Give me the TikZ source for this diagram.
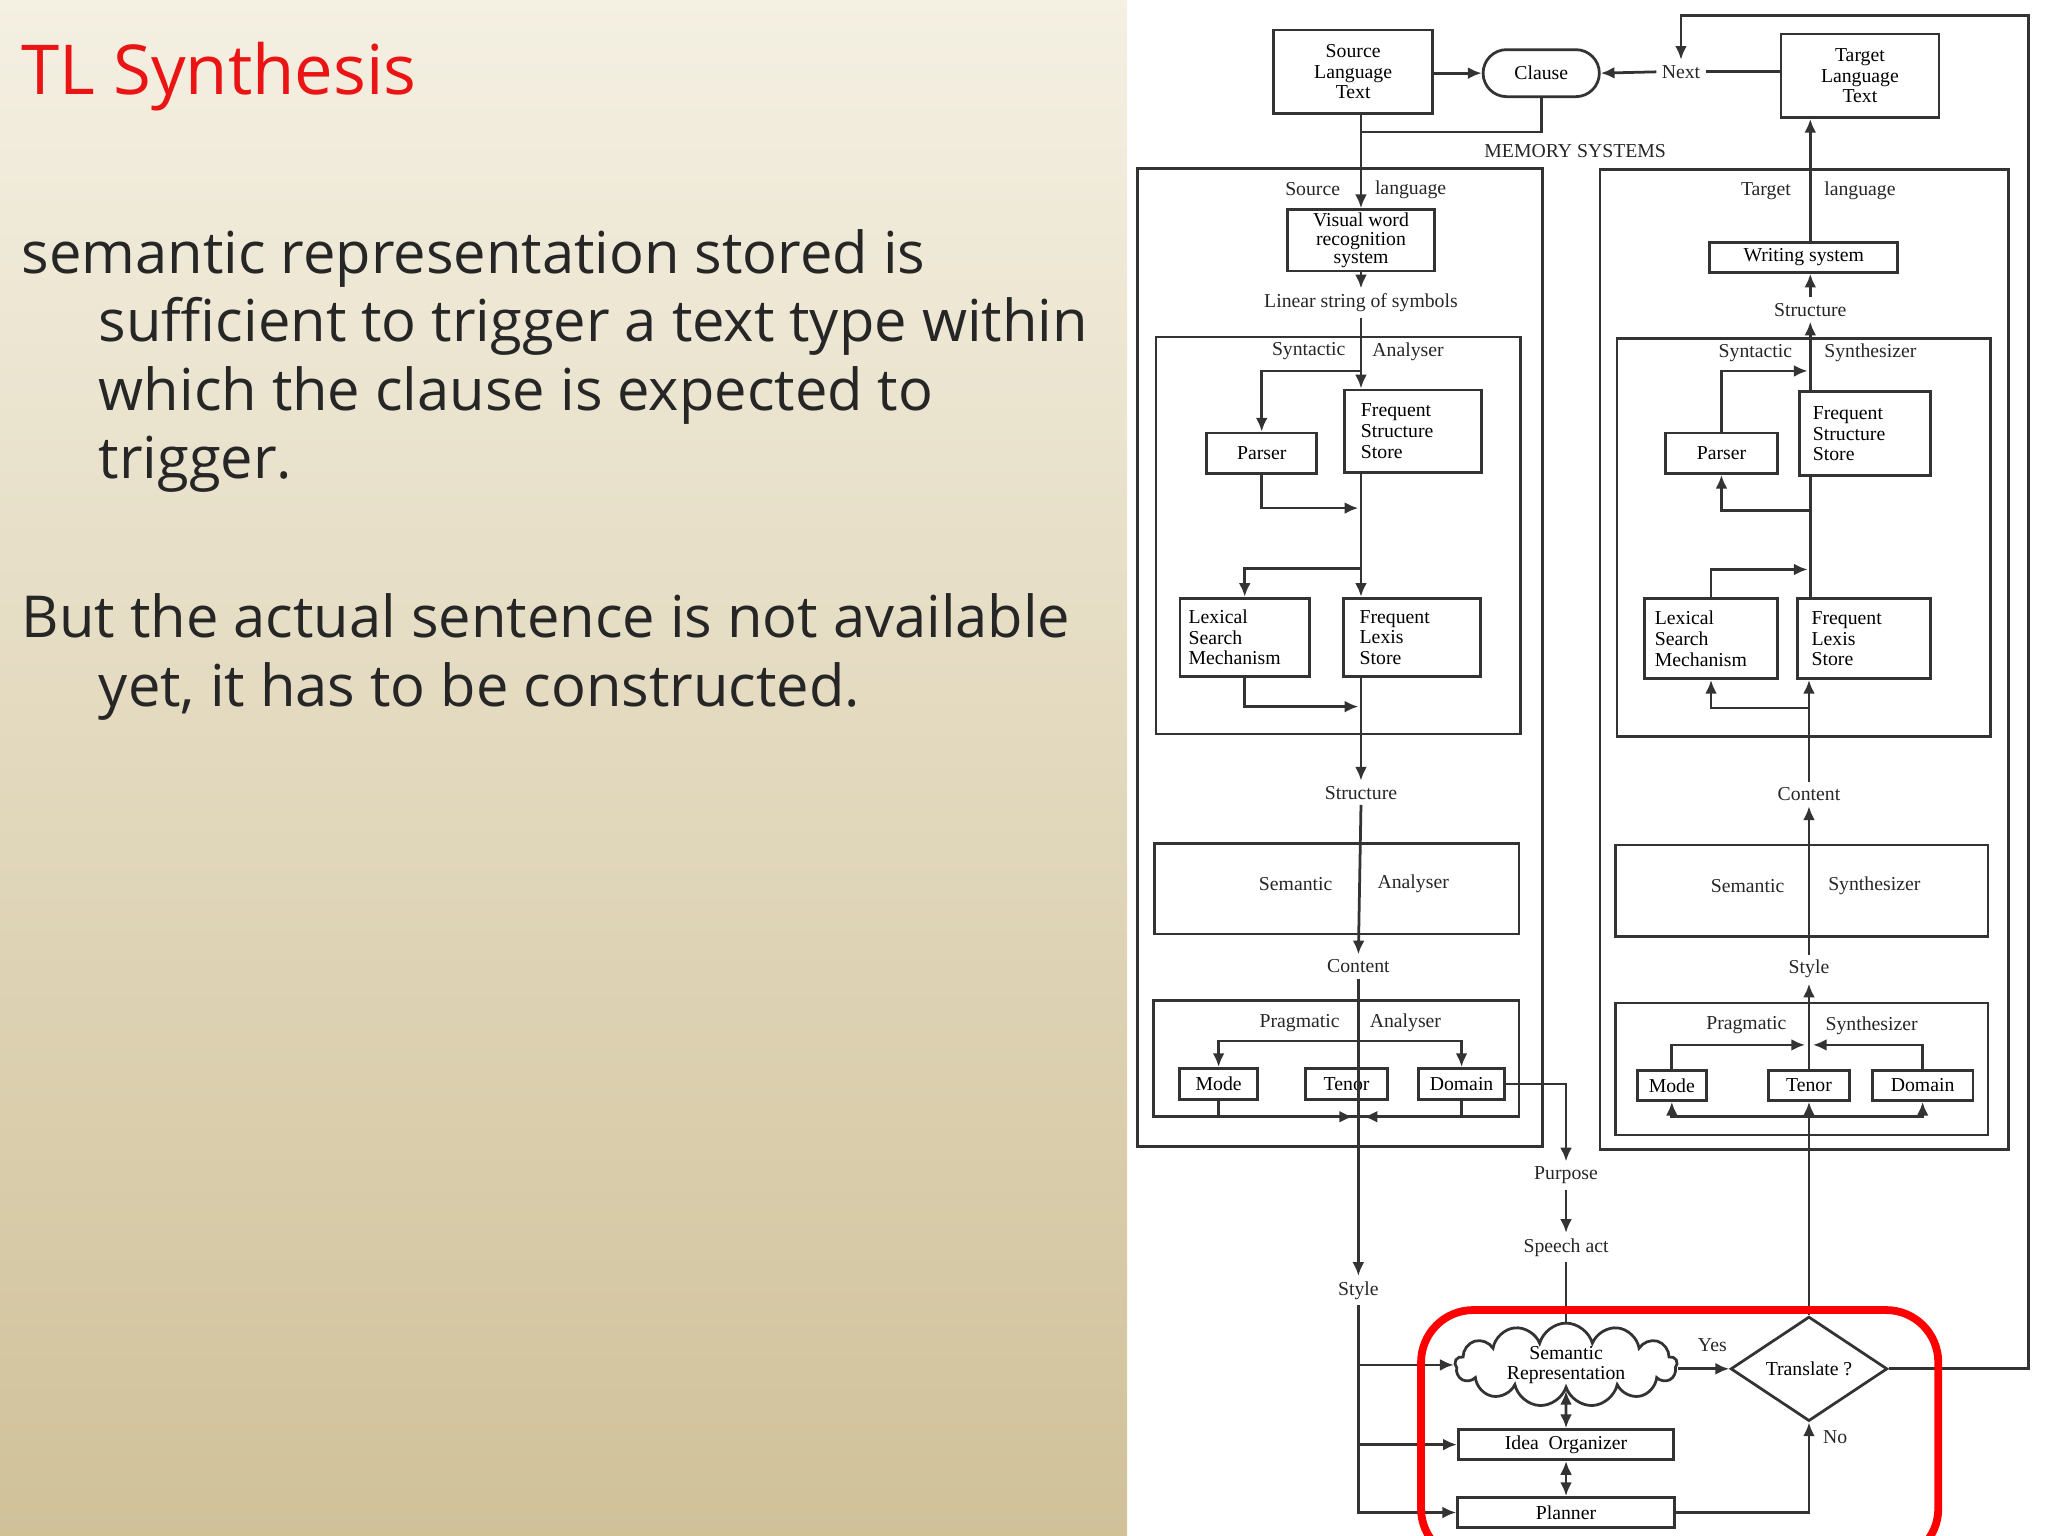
\documentclass[tikz,border=0pt]{standalone}
\usepackage{fontspec}
\setmainfont{Liberation Serif}
\newfontfamily\slidefont{Open Sans}
\usetikzlibrary{shapes.geometric,shapes.symbols,arrows.meta,calc}
\newcommand\dfont{\fontsize{4.3}{4.5}\selectfont}
\begin{document}
\begin{tikzpicture}[x=0.1mm,y=-0.1mm,
 ln/.style={line width=0.6pt, draw=black!80},
 box/.style={ln, rectangle, inner sep=0.5pt, align=center, font=\dfont},
 lbox/.style={box, align=left},
 arr/.style={ln, -{Latex[length=3pt,width=2.6pt]}},
 darr/.style={ln, {Latex[length=3pt,width=2.6pt]}-{Latex[length=3pt,width=2.6pt]}},
 lab/.style={font=\dfont, inner sep=1pt, text=black!85},
 para/.style={anchor=north west, inner sep=0, align=left, text={rgb,255:red,38;green,38;blue,38}, font=\slidefont\fontsize{12.6}{14.9}\selectfont}]
\useasboundingbox (0,0) rectangle (1568,1176);
\shade[top color={rgb,255:red,244;green,240;blue,226}, bottom color={rgb,255:red,208;green,193;blue,153}] (0,0) rectangle (863,1176);
% left text
\node[anchor=base west, inner sep=0, text={rgb,255:red,235;green,20;blue,20}, font=\slidefont\fontsize{15}{18}\selectfont] (title) at (16,72) {TL Synthesis};
\node[para] (p1) at (16,175) {semantic representation stored is\\\hspace*{5.9mm}sufficient to trigger a text type within\\\hspace*{5.9mm}which the clause is expected to\\\hspace*{5.9mm}trigger.};
\node[para] (p2) at (16,454) {But the actual sentence is not available\\\hspace*{5.9mm}yet, it has to be constructed.};
% top
\node[box,minimum width=12.2mm,minimum height=6.4mm] (slt) at (1036,55) {Source\\Language\\Text};
\node[box,rounded corners=1.8mm,minimum width=8.9mm,minimum height=3.6mm] (clause) at (1180,56) {Clause};
\node[lab] (next) at (1287,55) {Next};
\node[box,minimum width=12.1mm,minimum height=6.4mm] (tlt) at (1424,58) {Target\\Language\\Text};
\draw[arr] (slt.east|-clause.west) -- (clause.west);
\draw[arr] (next.west) -- (clause.east);
\draw[ln] (tlt.west|-next) -- (next.east);
\draw[ln] (clause.south) -- (1180,101) -- (1043,101);
\node[lab] (mem) at (1206,116) {MEMORY SYSTEMS};
% left column
\draw[ln] (871,129) rectangle (1181,878);
\node[lab] at (1005,145) {Source};
\node[lab] at (1080,145) {language};
\node[box,minimum width=11.2mm,minimum height=4.7mm,font=\fontsize{4.3}{4}\selectfont] (vw) at (1042,184) {Visual word\\recognition\\system};
\draw[arr] (slt.south-|vw.north) -- (vw.north);
\node[lab] (lin) at (1042,232) {Linear string of symbols};
\draw[arr] (vw.south) -- (lin.north);
\draw[ln] (885,258) rectangle (1164,562);
\node[lab] at (1002,269) {Syntactic};
\node[lab] at (1078,269) {Analyser};
\node[box,minimum width=8.4mm,minimum height=3.1mm] (lparser) at (966,347) {Parser};
\node[lbox,minimum width=10.5mm,minimum height=6.3mm,text width=8mm] (lfss) at (1082,330) {Frequent\\Structure\\Store};
\node[lbox,minimum width=9.9mm,minimum height=6.0mm,text width=8.6mm] (llex) at (953,488) {Lexical\\Search\\Mechanism};
\node[lbox,minimum width=10.5mm,minimum height=6.0mm,text width=8mm] (lfls) at (1081,488) {Frequent\\Lexis\\Store};
\draw[arr] (lin.south) -- (lin.south|-lfss.north);
\draw[arr] (lin.south|-0,284) -| (lparser.north);
\draw[arr] (lparser.south) |- (1040,389);
\draw[arr] (lin.south|-lfss.south) -- (lin.south|-lfls.north);
\draw[arr] (lin.south|-0,435) -| (llex.north);
\draw[arr] (llex.south) |- (1040,541);
\node[lab] (lstruct) at (1042,607) {Structure};
\draw[arr] (lin.south|-lfls.south) -- (lstruct.north);
\draw[ln] (884,646) rectangle (1163,715);
\node[lab] at (992,677) {Semantic};
\node[lab] at (1082,677) {Analyser};
\node[lab] (lcont) at (1040,740) {Content};
\draw[arr] (lstruct.south) -- (lcont.north);
\draw[ln] (883,766) rectangle (1163,855);
\node[lab] at (995,783) {Pragmatic};
\node[lab] at (1076,783) {Analyser};
\node[box,minimum width=6.0mm,minimum height=2.4mm] (lmode) at (933,830) {Mode};
\node[box,minimum width=6.3mm,minimum height=2.4mm] (ltenor) at (1031,830) {Tenor};
\node[box,minimum width=6.6mm,minimum height=2.4mm] (ldomain) at (1119,830) {Domain};
\node[lab] (lstyle) at (1040,988) {Style};
\draw[arr] (lcont.south) -- (lstyle.north);
\draw[arr] (lcont.south|-0,797) -| (lmode.north);
\draw[arr] (lcont.south|-0,797) -| (ldomain.north);
\draw[arr] (lmode.south) |- (1036,855);
\draw[arr] (ldomain.south) |- (1044,855);
\node[lab] (purpose) at (1199,900) {Purpose};
\node[lab] (speech) at (1199,955) {Speech act};
\draw[arr] (ldomain.east) -| (purpose.north);
\draw[arr] (purpose.south) -- (speech.north);
% bottom
\node[cloud, ln, draw, cloud puffs=13, aspect=3.2, inner sep=0pt, minimum width=17mm, minimum height=6.2mm, align=center, font=\dfont] (sem) at (1199,1045) {Semantic\\Representation};
\node[box,minimum width=16.5mm,minimum height=2.3mm] (idea) at (1199,1106) {Idea\ \ Organizer};
\node[box,minimum width=16.6mm,minimum height=2.3mm] (planner) at (1199,1158) {Planner};
\draw[ln] (speech.south) -- (speech.south|-sem.north);
\draw[darr] (sem.south) -- (idea.north);
\draw[darr] (idea.south) -- (planner.north);
\draw[arr] (lstyle.south) |- (planner.west);
\draw[arr] (sem.west-|lstyle.south) -- (sem.west);
\draw[arr] (idea.west-|lstyle.south) -- (idea.west);
\node[diamond, ln, draw, aspect=1.5, inner sep=0pt, minimum width=12mm, minimum height=8mm, font=\dfont] (tr) at (1385,1048) {Translate ?};
\draw[arr] (sem.east|-tr.west) -- (tr.west);
\node[lab] (yes) at (1311,1030) {Yes};
\node[lab] (no) at (1405,1100) {No};
\draw[arr] (planner.east) -| (tr.south);
\draw[arr] (tr.east) -- (1553,1048) -- (1553,12) -- (1287,12) -- (next.north);
% right column
\draw[ln] (1225,130) rectangle (1538,880);
\node[lab] at (1352,146) {Target};
\node[lab] at (1424,146) {language};
\node[lab] (rstruct) at (1386,237) {Structure};
\node[box,minimum width=14.4mm,minimum height=2.3mm] (ws) at (1381,197) {Writing system};
\draw[arr] (rstruct.north|-ws.north) -- (rstruct.north|-tlt.south);
\draw[arr] (rstruct.north) -- (rstruct.north|-ws.south);
\draw[ln] (1238,259) rectangle (1524,564);
\node[lab] at (1344,270) {Syntactic};
\node[lab] at (1432,270) {Synthesizer};
\node[box,minimum width=8.6mm,minimum height=3.1mm] (rparser) at (1318,347) {Parser};
\node[lbox,minimum width=10.0mm,minimum height=6.4mm,text width=8mm] (rfss) at (1428,332) {Frequent\\Structure\\Store};
\node[lbox,minimum width=10.2mm,minimum height=6.1mm,text width=8.6mm] (rlex) at (1310,489) {Lexical\\Search\\Mechanism};
\node[lbox,minimum width=10.2mm,minimum height=6.1mm,text width=8mm] (rfls) at (1427,489) {Frequent\\Lexis\\Store};
\draw[arr] (rstruct.south|-rfss.north) -- (rstruct.south);
\draw[arr] (rparser.north) |- (1384,284);
\draw[ln] (rstruct.south|-rfss.south) -- (rstruct.south|-rfls.north);
\draw[arr] (rstruct.south|-0,391) -| (rparser.south);
\draw[arr] (rlex.north) |- (1384,436);
\draw[arr] (rstruct.south|-0,542) -| (rlex.south);
\node[lab] (rcont) at (1385,608) {Content};
\draw[arr] (rcont.north) -- (rcont.north|-rfls.south);
\draw[ln] (1237,647) rectangle (1522,717);
\node[lab] at (1338,678) {Semantic};
\node[lab] at (1435,678) {Synthesizer};
\node[lab] (rstyle) at (1385,742) {Style};
\draw[arr] (rstyle.north) -- (rcont.south);
\draw[ln] (1237,768) rectangle (1522,869);
\node[lab] at (1337,785) {Pragmatic};
\node[lab] at (1433,785) {Synthesizer};
\node[box,minimum width=5.3mm,minimum height=2.3mm] (rmode) at (1280,831) {Mode};
\node[box,minimum width=6.2mm,minimum height=2.3mm] (rtenor) at (1385,831) {Tenor};
\node[box,minimum width=7.7mm,minimum height=2.3mm] (rdomain) at (1472,831) {Domain};
\draw[arr] (rtenor.north) -- (rstyle.south);
\draw[arr] (rmode.north) |- (1382,800);
\draw[arr] (rdomain.north) |- (1388,800);
\draw[arr] (tr.north) -- (tr.north|-rtenor.south);
\draw[arr] (rtenor.south|-0,855) -| (rmode.south);
\draw[arr] (rtenor.south|-0,855) -| (rdomain.south);
% red frame
\draw[red, line width=1.7pt, rounded corners=4mm] (1088,1003) rectangle (1484,1195);
\end{tikzpicture}
\end{document}
